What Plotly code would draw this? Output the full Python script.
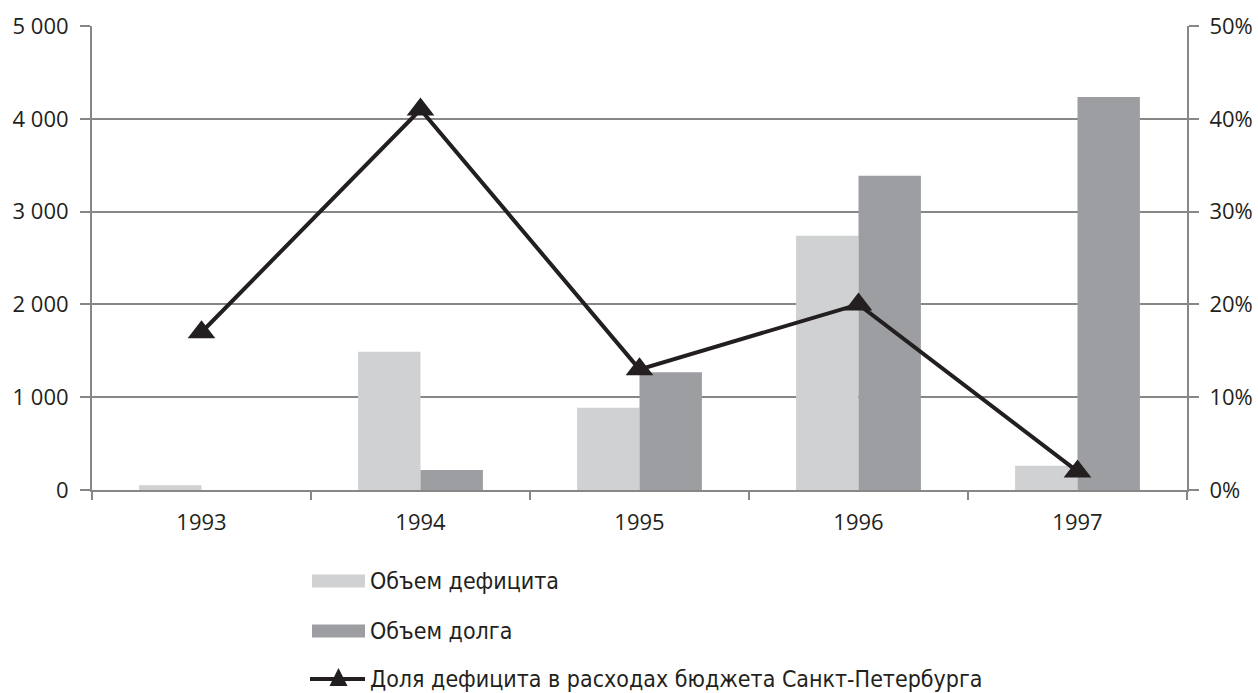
import plotly.graph_objects as go

years = ["1993", "1994", "1995", "1996", "1997"]
deficit = [50, 1490, 885, 2740, 260]
debt = [0, 215, 1270, 3385, 4235]
share_pct = [17, 41, 13, 20, 2]

left_ticks = [0, 1000, 2000, 3000, 4000, 5000]
right_ticks = [0, 10, 20, 30, 40, 50]
right_labels = [f"{v}%" for v in right_ticks]

names = ["Объем дефицита", "Объем долга", "Доля дефицита в расходах бюджета Санкт-Петербурга"]
C_DEF = "#d0d1d3"
C_DEBT = "#9d9ea1"
C_LINE = "#231f20"

GRID = "#878787"
TICKFONT = dict(family="Open Sans", size=22, color="#231f20")
LEGFONT = dict(family="DejaVu Sans Condensed, DejaVu Sans", size=23, color="#231f20")

W, H = 1258, 693
L, R, T, B = 92, 71, 26, 203
PW, PH = W - L - R, H - T - B


def px(xp):
    return (xp - L) / PW


def py(yp):
    return (H - B - yp) / PH


fig = go.Figure()
fig.add_trace(go.Bar(x=years, y=deficit, name=names[0],
                     marker=dict(color=C_DEF, line=dict(width=0))))
fig.add_trace(go.Bar(x=years, y=debt, name=names[1],
                     marker=dict(color=C_DEBT, line=dict(width=0))))
fig.add_trace(go.Scatter(x=years, y=share_pct, name=names[2],
                         yaxis="y2", mode="lines+markers",
                         line=dict(color=C_LINE, width=4),
                         marker=dict(symbol="triangle-up", size=24, color=C_LINE)))

# manual legend (wide swatches like the original)
shapes = []
annotations = []
rows = [581, 631, 679]
sw_x0, sw_x1, txt_x = 312, 365, 368
for i, (yc, nm) in enumerate(zip(rows, names)):
    if i < 2:
        shapes.append(dict(type="rect", xref="paper", yref="paper",
                           x0=px(sw_x0), x1=px(sw_x1), y0=py(yc + 6.5), y1=py(yc - 6.5),
                           fillcolor=[C_DEF, C_DEBT][i], line=dict(width=0)))
    else:
        shapes.append(dict(type="line", xref="paper", yref="paper",
                           x0=px(sw_x0 - 2), x1=px(sw_x1), y0=py(yc), y1=py(yc),
                           line=dict(color=C_LINE, width=4)))
        cx = (sw_x0 + sw_x1) / 2
        path = (f"M{px(cx - 9)},{py(yc + 7)} L{px(cx + 9)},{py(yc + 7)} "
                f"L{px(cx)},{py(yc - 11)} Z")
        shapes.append(dict(type="path", xref="paper", yref="paper", path=path,
                           fillcolor=C_LINE, line=dict(width=0)))
    annotations.append(dict(text=nm, xref="paper", yref="paper", x=px(txt_x), y=py(yc),
                            xanchor="left", yanchor="middle", showarrow=False,
                            font=LEGFONT))

fig.update_layout(
    width=W, height=H,
    margin=dict(l=L, r=R, t=T, b=B, autoexpand=False),
    paper_bgcolor="white", plot_bgcolor="white",
    separators=". ",
    barmode="group", bargap=0.43, bargroupgap=0,
    showlegend=False,
    shapes=shapes, annotations=annotations,
    xaxis=dict(type="category", showgrid=False, showline=True, linecolor=GRID, linewidth=2,
               ticks="outside", tickson="boundaries", ticklen=8, tickwidth=2, tickcolor=GRID,
               tickfont=TICKFONT, ticklabelstandoff=12, automargin=False),
    yaxis=dict(range=[0, 5000], tickvals=left_ticks, tickformat=",d",
               showgrid=True, gridcolor=GRID, gridwidth=2,
               showline=True, linecolor=GRID, linewidth=2,
               ticks="outside", ticklen=10, tickwidth=2, tickcolor=GRID,
               tickfont=TICKFONT, ticklabelstandoff=7, zeroline=False, automargin=False),
    yaxis2=dict(range=[0, 50], tickvals=right_ticks, ticktext=right_labels,
                overlaying="y", side="right", showgrid=False,
                showline=True, linecolor=GRID, linewidth=2,
                ticks="outside", ticklen=10, tickwidth=2, tickcolor=GRID,
                tickfont=TICKFONT, ticklabelstandoff=6, zeroline=False, automargin=False),
)

fig.write_html("out.html", config={"displayModeBar": False},
               post_script="document.body.style.margin='0';document.body.style.overflow='hidden';")
